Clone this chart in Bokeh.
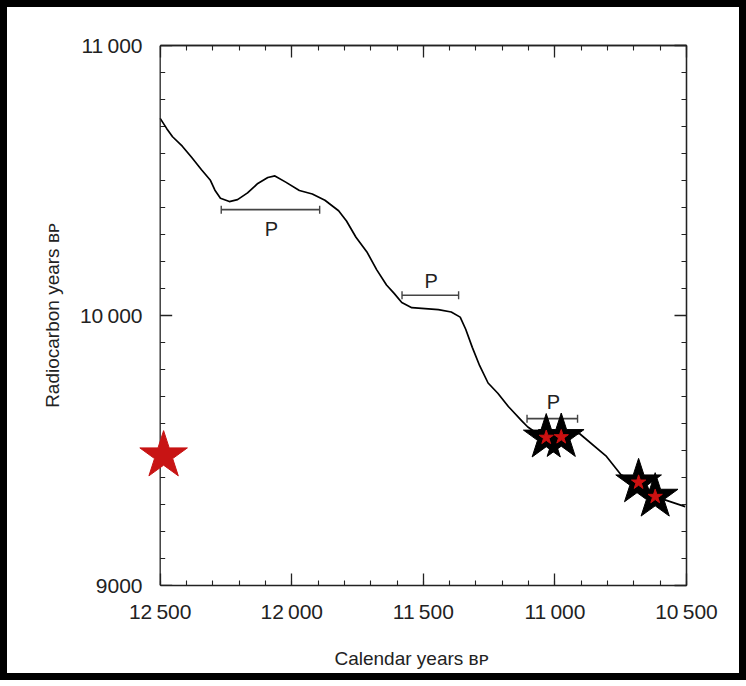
from bokeh.plotting import figure
from bokeh.models import Range1d, FixedTicker, LinearAxis, InlineStyleSheet, Span
from bokeh.embed import file_html
from bokeh.resources import INLINE
from bokeh.core.properties import value

# Calibration curve (calendar years BP vs radiocarbon years BP)
cal_years = [12500, 12475, 12453, 12416, 12380, 12343, 12310, 12292, 12271, 12237,
             12206, 12168, 12129, 12091, 12064, 12023, 11971, 11922, 11874, 11822,
             11792, 11756, 11713, 11677, 11640, 11611, 11582, 11544, 11443, 11394,
             11360, 11339, 11314, 11286, 11254, 11217, 11177, 11126, 11103, 11051,
             10975, 10907, 10804, 10749, 10682, 10619, 10505]
rc_years = [10730, 10692, 10662, 10627, 10585, 10540, 10502, 10464, 10434, 10422,
            10429, 10454, 10489, 10511, 10517, 10494, 10463, 10450, 10427, 10388,
            10350, 10290, 10233, 10169, 10113, 10082, 10048, 10029, 10022, 10013,
            9994, 9949, 9882, 9814, 9750, 9712, 9663, 9610, 9587, 9552,
            9557, 9563, 9478, 9410, 9382, 9329, 9292]

# Dated samples (black stars with red centres)
star_cal = [11033, 10976, 10682, 10619]
star_rc = [9548, 9550, 9382, 9329]

# Single red star sitting on the radiocarbon axis
red_cal = [12487]
red_rc = [9481]

# Plateau bars "P"
p_start = [12268, 11581, 11106]
p_end = [11894, 11366, 10914]
p_rc = [10392, 10075, 9618]
p_label_cal = [12077, 11470, 11006]
p_label_rc = [10321, 10127, 9680]
p_text = ["P", "P", "P"]

x_axis_start, x_axis_end = 12500, 10500
x_major = [12500, 12000, 11500, 11000, 10500]
x_labels = {12500: "12\u2009500", 12000: "12\u2009000", 11500: "11\u2009500",
            11000: "11\u2009000", 10500: "10\u2009500"}
y_major = [9000, 10000, 11000]
y_labels = {9000: "9000", 10000: "10\u2009000", 11000: "11\u2009000"}
x_minor = list(range(10500, 12600, 100))
y_minor = list(range(9000, 11100, 100))

FONT = "Liberation Sans"
INK = "#222222"

frame_css = InlineStyleSheet(css=":host { box-shadow: inset 0 0 0 7px #000000; }")

# The axes box spans 12500-10500; the range reaches a little further left (blank)
# so that the red star lying on the radiocarbon axis is not cut off.
p = figure(frame_width=550, frame_height=540,
           min_border_left=136, min_border_right=60,
           min_border_top=45, min_border_bottom=95,
           x_range=Range1d(12590, 10500), y_range=Range1d(9000, 11000),
           output_backend="svg", toolbar_location=None,
           background_fill_color="white", border_fill_alpha=0.0,
           stylesheets=[frame_css])
p.grid.visible = False
p.outline_line_color = None


def style_axis(ax, ticks, minor, tick_len=12, minor_len=5):
    ax.ticker = FixedTicker(ticks=ticks, minor_ticks=minor)
    ax.major_tick_in = tick_len
    ax.major_tick_out = 0
    ax.minor_tick_in = minor_len
    ax.minor_tick_out = 0
    ax.axis_line_color = INK
    ax.axis_line_width = 1.3
    ax.major_tick_line_color = INK
    ax.major_tick_line_width = 1.3
    ax.minor_tick_line_color = INK
    ax.minor_tick_line_width = 1.1


def style_labels(ax, labels):
    ax.major_label_overrides = labels
    ax.major_label_text_font = FONT
    ax.major_label_text_font_size = "21px"
    ax.major_label_text_color = INK
    ax.axis_label_text_font = FONT
    ax.axis_label_text_font_size = "19px"
    ax.axis_label_text_font_style = "normal"
    ax.axis_label_text_color = INK


# Bottom axis
xa = p.xaxis[0]
style_axis(xa, x_major, x_minor)
style_labels(xa, x_labels)
xa.bounds = (x_axis_end, x_axis_start)
xa.major_label_standoff = 14
xa.axis_label = "Calendar years \u0299\u1d18"
xa.axis_label_standoff = 22

# Left axis: labels only; its line and ticks are drawn on 12500 below
ya = p.yaxis[0]
style_axis(ya, y_major, [])
style_labels(ya, y_labels)
ya.axis_line_color = None
ya.major_tick_line_color = None
ya.minor_tick_line_color = None
ya.major_label_standoff = -6
ya.axis_label = "Radiocarbon years \u0299\u1d18"
ya.axis_label_standoff = 14

# Radiocarbon axis line at 12500 with inward ticks
p.add_layout(Span(location=x_axis_start, dimension="height", line_color=INK,
                  line_width=1.3))
p.ray(x=[x_axis_start] * len(y_minor), y=y_minor, length=5, length_units="screen",
      angle=0, line_color=INK, line_width=1.1)
p.ray(x=[x_axis_start] * len(y_major), y=y_major, length=12, length_units="screen",
      angle=0, line_color=INK, line_width=1.3)

# Mirror ticks on top and right (minor ticks only, so no labels are produced)
for side, minor, major in (("above", x_minor, x_major), ("right", y_minor, y_major)):
    ax_minor = LinearAxis()
    style_axis(ax_minor, [], minor, minor_len=5)
    ax_major = LinearAxis()
    style_axis(ax_major, [], major, minor_len=12)
    ax_major.minor_tick_line_width = 1.3
    if side == "above":
        ax_minor.bounds = (x_axis_end, x_axis_start)
        ax_major.bounds = (x_axis_end, x_axis_start)
    p.add_layout(ax_minor, side)
    p.add_layout(ax_major, side)

# Calibration curve
p.line(cal_years, rc_years, line_color="black", line_width=1.7, line_join="round")

# Plateau bars
p.segment(x0=p_start, y0=p_rc, x1=p_end, y1=p_rc, line_color="#444444", line_width=1.6)
p.scatter(p_start + p_end, p_rc + p_rc, marker="dash", angle=1.5708, size=8,
          line_color="#444444", line_width=1.4)
p.text(p_label_cal, p_label_rc, text=p_text, text_align="center", text_baseline="middle",
       text_font=value(FONT), text_font_size="20px", text_color=INK)

# Sample stars
p.scatter(star_cal, star_rc, marker="star", size=48, fill_color="black",
          line_color="black", line_width=1)
p.scatter(star_cal, star_rc, marker="star", size=15, fill_color="#cc1111",
          line_color="#cc1111")

# Red star on the radiocarbon axis, drawn above the axis line
p.scatter(red_cal, red_rc, marker="star", size=50, fill_color="#c81414",
          line_color="#c81414", level="overlay")

open("out.html", "w").write(file_html(p, INLINE))
